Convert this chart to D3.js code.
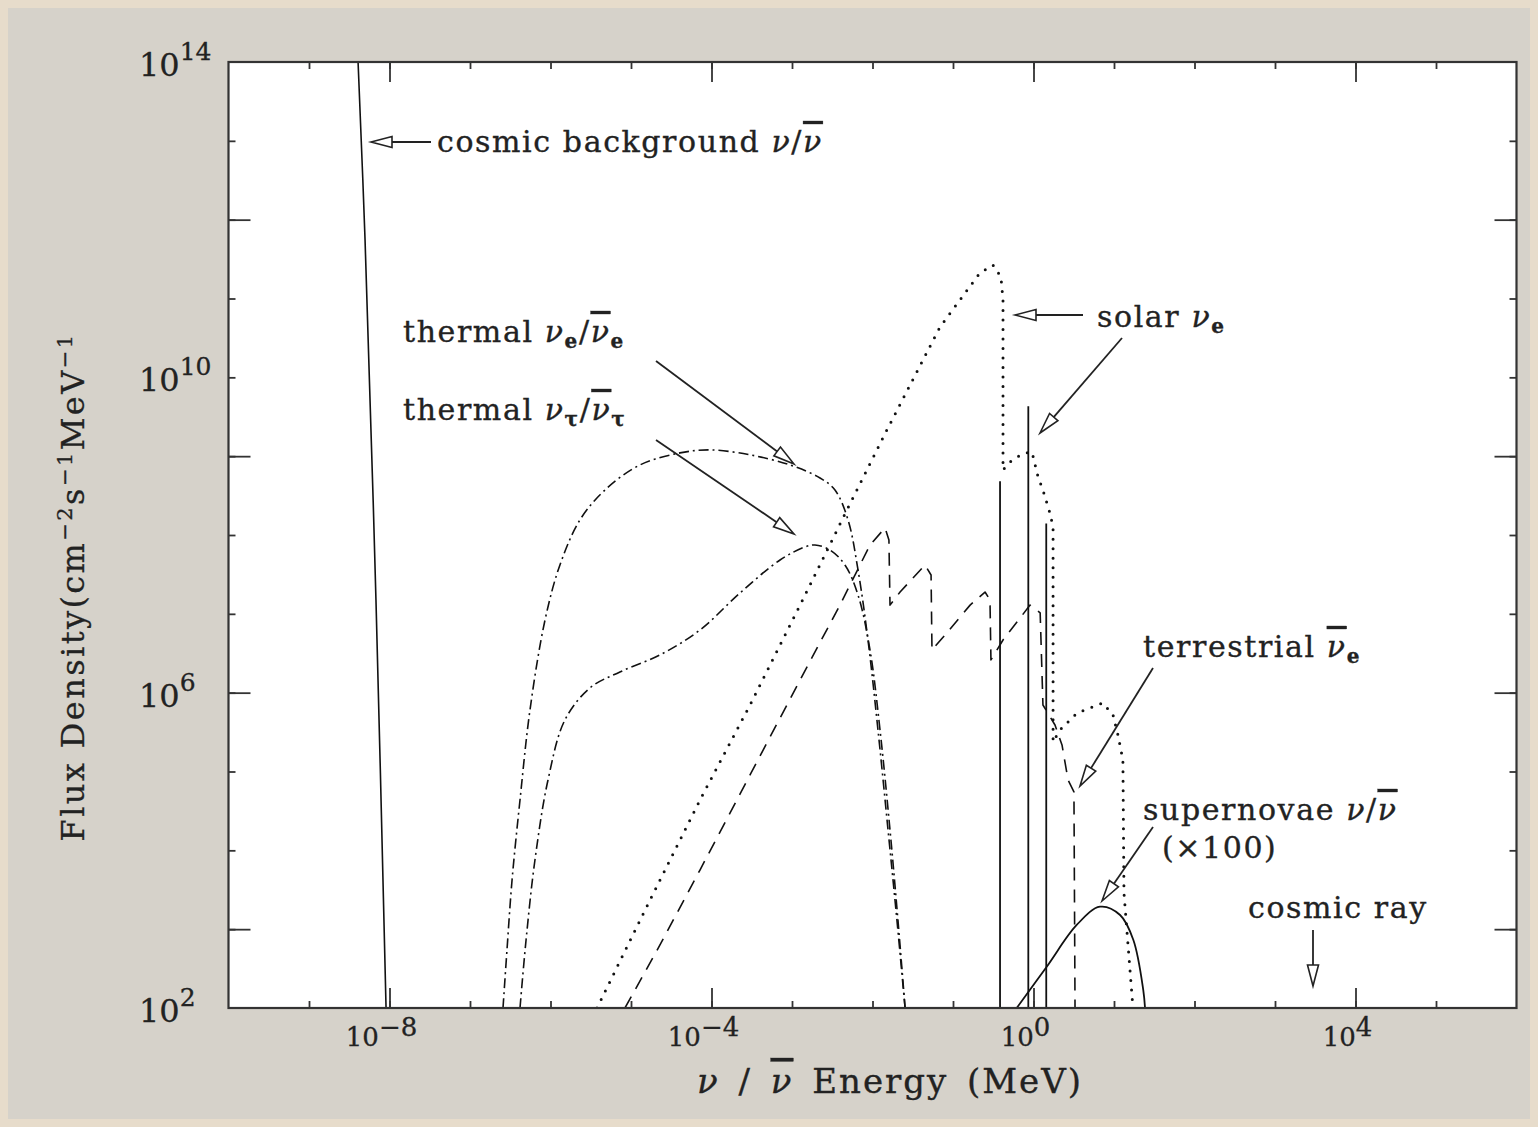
<!DOCTYPE html>
<html><head><meta charset="utf-8">
<script src="https://cdn.jsdelivr.net/npm/d3@7"></script>
<style>
body{margin:0;background:#d6d2ca;}
svg text{font-family:'DejaVu Serif',serif;fill:#222;}
</style>
</head><body>
<svg id="chart" width="1538" height="1127"></svg>
<script>
// ---------------- data (energy in MeV, flux density in cm^-2 s^-1 MeV^-1) ----------------
const cosmicBgE = [4.07e-9, 4.97e-9, 6.79e-9, 9.06e-9];
const cosmicBgF = [1e14, 5.5e11, 1.5e7, 1e2];

const thermalEE = [2.57e-7, 2.88e-7, 3.33e-7, 4.18e-7, 5.56e-7, 8.55e-7, 1.31e-6, 2.32e-6, 4.75e-6, 1.29e-5, 4.06e-5, 9.57e-5, 3.01e-4, 9.44e-4, 2.23e-3, 3.42e-3, 4.97e-3, 6.61e-3, 8.79e-3, 1.17e-2, 1.56e-2, 2.01e-2, 2.54e-2];
const thermalEF = [1e2, 544, 4.21e3, 4.35e4, 6.03e5, 8.36e6, 4.17e7, 1.55e8, 3.72e8, 7.73e8, 1.10e9, 1.20e9, 1.04e9, 7.73e8, 5.29e8, 3.72e8, 1.55e8, 3.60e7, 4.66e6, 3.36e5, 1.81e4, 1.31e3, 1e2];

const thermalTauE = [4.18e-7, 4.97e-7, 6.41e-7, 9.31e-7, 1.51e-6, 3.10e-6, 7.29e-6, 2.29e-5, 7.19e-5, 2.26e-4, 7.10e-4, 1.45e-3, 1.93e-3, 2.96e-3, 4.55e-3, 6.61e-3, 9.31e-3, 1.24e-2, 1.65e-2, 2.07e-2, 2.54e-2];
const thermalTauF = [1e2, 729, 7.54e3, 7.80e4, 4.50e5, 1.15e6, 1.83e6, 3.01e6, 6.24e6, 1.84e7, 4.82e7, 7.05e7, 7.47e7, 6.46e7, 4.17e7, 1.73e7, 3.48e6, 3.36e5, 1.81e4, 1.31e3, 1e2];

const solarContE = [3.78e-6, 1.72e-5, 7.19e-5, 3.01e-4, 1.26e-3, 4.82e-3, 1.51e-2, 6.90e-2, 0.216, 0.314, 0.394, 0.418, 0.418, 0.511, 0.719, 0.957, 1.14, 1.31, 1.60, 1.75, 1.75, 2.13, 3.47, 7.29, 9.72, 11.2, 12.9, 13.3, 17.2];
const solarContF = [1e2, 2.34e3, 4.35e4, 6.98e5, 1.29e7, 2.08e8, 2.15e9, 4.36e10, 2.11e11, 2.66e11, 1.88e11, 9.58e10, 6.68e8, 8.44e8, 1.07e9, 1.13e9, 5.45e8, 3.72e8, 1.90e8, 1.26e8, 2.37e5, 3.36e5, 5.52e5, 7.40e5, 5.21e5, 2.90e5, 1.40e5, 2.88e3, 1e2];

const solarLineE = [0.384, 0.862, 1.44];
const solarLineF = [4.8e8, 4.3e9, 1.4e8];

const terrestrialE = [8.41e-6, 2.29e-5, 7.19e-5, 3.01e-4, 1.26e-3, 3.94e-3, 9.31e-3, 1.43e-2, 1.60e-2, 1.65e-2, 2.20e-2, 4.49e-2, 5.34e-2, 5.48e-2, 7.97e-2, 0.163, 0.250, 0.288, 0.296, 0.418, 0.906, 1.21, 1.31, 1.85, 2.26, 2.69, 3.18, 3.28];
const terrestrialF = [1e2, 630, 5.63e3, 9.03e4, 1.45e6, 1.29e7, 7.47e7, 1.23e8, 8.65e7, 1.29e7, 1.89e7, 4.17e7, 3.11e7, 3.48e6, 5.39e6, 1.29e7, 1.89e7, 1.50e7, 2.60e6, 4.66e6, 1.29e7, 1.03e7, 6.98e5, 3.89e5, 2.17e5, 7.80e4, 5.50e4, 1e2];

const supernovaE = [0.618, 1.46, 3.44, 6.7, 11.9, 17.4, 23.1, 24.3];
const supernovaF = [100, 334, 1130, 1928, 1514, 729, 169, 100];

const xMinorTicks = [1e-9,1e-8,1e-7,1e-6,1e-5,1e-4,1e-3,1e-2,1e-1,1e0,1e1,1e2,1e3,1e4,1e5];
const xMajorTicks = [1e-8,1e-4,1e0,1e4];
const xTickLabels = [["10","−8"],["10","−4"],["10","0"],["10","4"]];
const yMinorTicks = [1e3,1e4,1e5,1e6,1e7,1e8,1e9,1e10,1e11,1e12,1e13];
const yMajorTicks = [1e3,1e6,1e9,1e12];
const yLabelValues = [1e2,1e6,1e10,1e14];
const yTickLabels = [["10","2"],["10","6"],["10","10"],["10","14"]];

// ---------------- layout ----------------
const svg = d3.select("#chart");
const W = 1538, H = 1127;
const L = 228.5, R = 1516.5, T = 62, B = 1008;
const x = d3.scaleLog().domain([1e-10, 1e6]).range([L, R]);
const y = d3.scaleLog().domain([1e2, 1e14]).range([B, T]);

svg.append("rect").attr("width", W).attr("height", H).attr("fill", "#e7dccb");
svg.append("rect").attr("x", 8).attr("y", 8).attr("width", W - 16).attr("height", H - 16).attr("fill", "#d6d2ca");
svg.append("rect").attr("x", L).attr("y", T).attr("width", R - L).attr("height", B - T).attr("fill", "#fff");

svg.append("defs").append("clipPath").attr("id", "plotclip")
  .append("rect").attr("x", L).attr("y", T).attr("width", R - L).attr("height", B - T);

// ticks
function axisGroup(axis, tx, ty) {
  const g = svg.append("g").attr("transform", `translate(${tx},${ty})`).call(axis);
  g.select(".domain").remove();
  g.selectAll("line").attr("stroke", "#333").attr("stroke-width", 1.8);
  g.selectAll("text").remove();
  return g;
}
axisGroup(d3.axisBottom(x).tickValues(xMinorTicks).tickSize(-7).tickSizeOuter(0).tickFormat(""), 0, B);
axisGroup(d3.axisBottom(x).tickValues(xMajorTicks).tickSize(-20).tickSizeOuter(0).tickFormat(""), 0, B);
axisGroup(d3.axisTop(x).tickValues(xMinorTicks).tickSize(-7).tickSizeOuter(0).tickFormat(""), 0, T);
axisGroup(d3.axisTop(x).tickValues(xMajorTicks).tickSize(-20).tickSizeOuter(0).tickFormat(""), 0, T);
axisGroup(d3.axisLeft(y).tickValues(yMinorTicks).tickSize(-7).tickSizeOuter(0).tickFormat(""), L, 0);
axisGroup(d3.axisLeft(y).tickValues(yMajorTicks).tickSize(-22).tickSizeOuter(0).tickFormat(""), L, 0);
axisGroup(d3.axisRight(y).tickValues(yMinorTicks).tickSize(-7).tickSizeOuter(0).tickFormat(""), R, 0);
axisGroup(d3.axisRight(y).tickValues(yMajorTicks).tickSize(-22).tickSizeOuter(0).tickFormat(""), R, 0);

// tick labels
xMajorTicks.forEach((v, i) => {
  const t = svg.append("text").attr("x", x(v) - 8).attr("y", B + 38)
    .attr("text-anchor", "middle").style("font-size", "26px")
    .style("stroke", "#222").style("stroke-width", 0.3);
  t.append("tspan").text(xTickLabels[i][0]);
  t.append("tspan").attr("dy", -10).text(xTickLabels[i][1]);
});
yLabelValues.forEach((v, i) => {
  const t = svg.append("text").attr("x", 139).attr("y", y(v) + 14)
    .attr("text-anchor", "start").style("font-size", "32px")
    .style("stroke", "#222").style("stroke-width", 0.3);
  t.append("tspan").text(yTickLabels[i][0]);
  t.append("tspan").attr("dy", -16).style("font-size", "25px").text(yTickLabels[i][1]);
});

// curves
const plot = svg.append("g").attr("clip-path", "url(#plotclip)");
const lineLin = d3.line().x(d => x(d[0])).y(d => y(d[1]));
const lineSmooth = d3.line().x(d => x(d[0])).y(d => y(d[1])).curve(d3.curveCatmullRom.alpha(0.5));

function drawSeries(E, F, gen, dash, width, cap) {
  plot.append("path").datum(d3.zip(E, F)).attr("d", gen)
    .attr("fill", "none").attr("stroke", "#111").attr("stroke-width", width)
    .attr("stroke-dasharray", dash).attr("stroke-linecap", cap || "butt")
    .attr("stroke-linejoin", "round");
}
drawSeries(cosmicBgE, cosmicBgF, lineSmooth, null, 1.6);
drawSeries(thermalEE, thermalEF, lineSmooth, "10,4,2,4", 1.6);
drawSeries(thermalTauE, thermalTauF, lineSmooth, "10,4,2,4", 1.6);
drawSeries(solarContE, solarContF, lineLin, "0,9.5", 3, "round");
drawSeries(terrestrialE, terrestrialF, lineLin, "13,9", 1.6);
drawSeries(supernovaE, supernovaF, lineSmooth, null, 1.8);
plot.selectAll("line.solar").data(d3.zip(solarLineE, solarLineF)).join("line")
  .attr("class", "solar")
  .attr("x1", d => x(d[0])).attr("x2", d => x(d[0]))
  .attr("y1", d => y(d[1])).attr("y2", B)
  .attr("stroke", "#111").attr("stroke-width", 1.8);

// frame
svg.append("rect").attr("x", L).attr("y", T).attr("width", R - L).attr("height", B - T)
  .attr("fill", "none").attr("stroke", "#333").attr("stroke-width", 2.2);

// annotation arrows (open triangle heads)
function arrow(x1, y1, x2, y2) {
  const g = svg.append("g");
  const a = Math.atan2(y2 - y1, x2 - x1), len = 21, hw = 5.5;
  const bx = x2 - len * Math.cos(a), by = y2 - len * Math.sin(a);
  g.append("line").attr("x1", x1).attr("y1", y1).attr("x2", bx).attr("y2", by)
    .attr("stroke", "#222").attr("stroke-width", 1.8);
  const px = -Math.sin(a) * hw, py = Math.cos(a) * hw;
  g.append("path").attr("d", `M${x2},${y2}L${bx + px},${by + py}L${bx - px},${by - py}Z`)
    .attr("fill", "#fff").attr("stroke", "#222").attr("stroke-width", 1.6).attr("stroke-linejoin", "miter");
}
arrow(431, 142, 371, 142);
arrow(1083, 315, 1015, 315);
arrow(1122, 338, 1040, 433);
arrow(656, 361, 794, 464);
arrow(656, 440, 794, 534);
arrow(1153, 668, 1080, 786);
arrow(1153, 827, 1102, 901);
arrow(1313, 930, 1313, 986);

// annotation labels
function label(xp, yp, parts) {
  const t = svg.append("text").attr("x", xp).attr("y", yp).style("font-size", "30px")
    .style("letter-spacing", "1.6px").style("stroke", "#222").style("stroke-width", 0.35);
  parts.forEach(p => {
    const s = t.append("tspan").text(p.t);
    if (p.it) s.style("font-style", "italic");
    if (p.bar) s.style("text-decoration", "overline");
    if (p.sub) s.attr("dy", 6).style("font-size", "20px").style("font-weight", "bold");
    if (p.up) s.attr("dy", -6);
  });
  return t;
}
label(437, 152, [{t: "cosmic background "}, {t: "ν", it: 1}, {t: "/"}, {t: "ν", it: 1, bar: 1}]);
label(403, 342, [{t: "thermal "}, {t: "ν", it: 1}, {t: "e", sub: 1}, {t: "/", up: 1}, {t: "ν", it: 1, bar: 1}, {t: "e", sub: 1}]);
label(403, 420, [{t: "thermal "}, {t: "ν", it: 1}, {t: "τ", sub: 1}, {t: "/", up: 1}, {t: "ν", it: 1, bar: 1}, {t: "τ", sub: 1}]);
label(1097, 327, [{t: "solar "}, {t: "ν", it: 1}, {t: "e", sub: 1}]);
label(1143, 657, [{t: "terrestrial "}, {t: "ν", it: 1, bar: 1}, {t: "e", sub: 1}]);
label(1143, 820, [{t: "supernovae "}, {t: "ν", it: 1}, {t: "/"}, {t: "ν", it: 1, bar: 1}]);
label(1162, 858, [{t: "(×100)"}]);
label(1248, 918, [{t: "cosmic ray"}]);

// axis titles
const xt = svg.append("text").attr("x", 890).attr("y", 1093).attr("text-anchor", "middle")
  .style("font-size", "34px").style("letter-spacing", "2px").style("word-spacing", "6px")
  .style("stroke", "#222").style("stroke-width", 0.35);
xt.append("tspan").style("font-style", "italic").text("ν");
xt.append("tspan").text(" / ");
xt.append("tspan").style("font-style", "italic").style("text-decoration", "overline").text("ν");
xt.append("tspan").text(" Energy (MeV)");

const yt = svg.append("text").attr("transform", "translate(84,587) rotate(-90)").attr("text-anchor", "middle")
  .style("font-size", "32px").style("letter-spacing", "2.4px")
  .style("stroke", "#222").style("stroke-width", 0.3);
yt.append("tspan").text("Flux Density(cm");
yt.append("tspan").attr("dy", -12).style("font-size", "21px").text("−2");
yt.append("tspan").attr("dy", 12).text("s");
yt.append("tspan").attr("dy", -12).style("font-size", "21px").text("−1");
yt.append("tspan").attr("dy", 12).text("MeV");
yt.append("tspan").attr("dy", -12).style("font-size", "21px").text("−1");
</script>
</body></html>
